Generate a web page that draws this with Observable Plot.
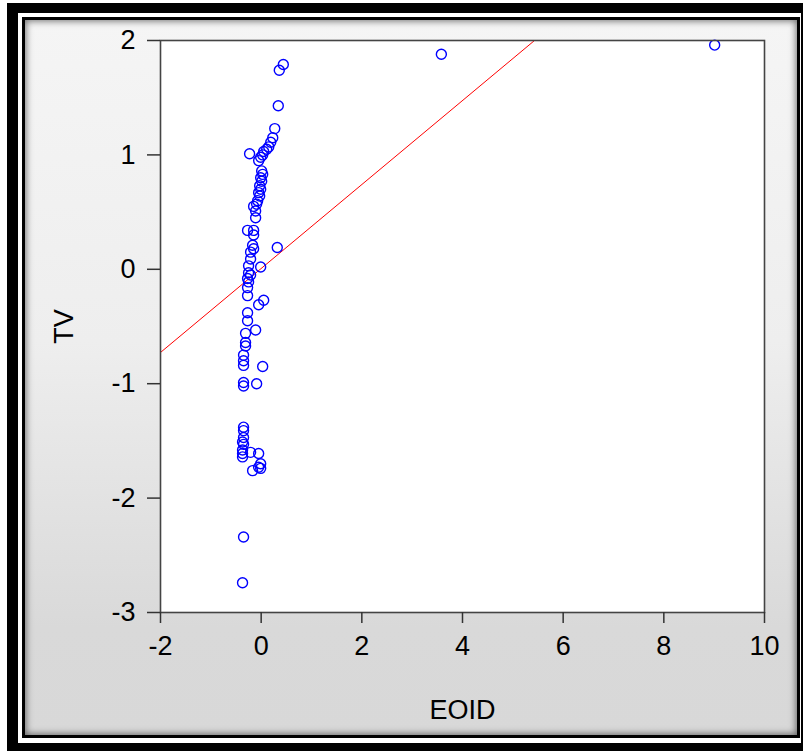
<!DOCTYPE html>
<html>
<head>
<meta charset="utf-8">
<script src="https://cdn.jsdelivr.net/npm/d3@7"></script>
<script src="https://cdn.jsdelivr.net/npm/@observablehq/plot@0.6"></script>
<style>
  html, body { margin:0; padding:0; background:#fff; }
  #page { position:relative; width:803px; height:751px; overflow:hidden; background:#fff; }
  .box { position:absolute; box-sizing:border-box; }
  #chart { position:absolute; left:0; top:0; }
</style>
</head>
<body>
<div id="page">
  <div class="box" style="left:7px; top:3px; right:0; bottom:0; background:#000;"></div>
  <div class="box" style="left:18px; top:13px; right:2px; bottom:8px; background:#fff;"></div>
  <div class="box" style="left:22px; top:17px; right:3px; bottom:13px; background:#000;"></div>
  <div class="box" style="left:25px; top:20px; right:6px; bottom:16px; background:linear-gradient(to bottom, #f5f5f5 0%, #eeeeee 45%, #d9d9d9 85%, #d8d8d8 100%); box-shadow: inset 0 0 7px 1px rgba(0,0,0,0.55);"></div>
  <div id="chart"></div>
</div>
<script>
// EOID (x) values
const eoid = [
  9.01, 3.58, 0.44, 0.36, 0.34, 0.27, 0.23, 0.19, 0.15, 0.11,
  0.05, 0.03, -0.23, -0.01, -0.05, 0.01, 0.03, -0.01, 0.01, -0.03,
  -0.01, -0.05, -0.03, -0.07, -0.09, -0.15, -0.11, -0.11, -0.27, -0.15,
  -0.15, -0.17, 0.32, -0.15, -0.21, -0.21, -0.25, -0.01, -0.25, -0.21,
  -0.27, -0.25, -0.27, -0.27, 0.05, -0.05, -0.27, -0.27, -0.11, -0.31,
  -0.31, -0.31, -0.35, -0.35, -0.35, 0.03, -0.35, -0.35, -0.09, -0.35,
  -0.35, -0.35, -0.37, -0.35, -0.37, -0.37, -0.37, -0.21, -0.05, -0.01,
  -0.05, -0.01, -0.17, -0.35, -0.37
];
// TV (y) values
const tv = [
  1.96, 1.88, 1.79, 1.74, 1.43, 1.23, 1.15, 1.11, 1.07, 1.05,
  1.03, 1.00, 1.01, 0.98, 0.95, 0.86, 0.83, 0.80, 0.77, 0.73,
  0.70, 0.67, 0.64, 0.60, 0.57, 0.55, 0.51, 0.45, 0.34, 0.34,
  0.30, 0.21, 0.19, 0.18, 0.15, 0.09, 0.03, 0.02, -0.03, -0.05,
  -0.08, -0.11, -0.16, -0.23, -0.27, -0.31, -0.38, -0.45, -0.53, -0.56,
  -0.64, -0.67, -0.75, -0.80, -0.84, -0.85, -0.99, -1.02, -1.00, -1.38,
  -1.41, -1.47, -1.51, -1.53, -1.58, -1.61, -1.64, -1.60, -1.61, -1.70,
  -1.73, -1.74, -1.76, -2.34, -2.74
];
// fitted regression line TV = a + b * EOID
const intercept = 0.007;
const slope = 0.367;

const xTicks = [-2, 0, 2, 4, 6, 8, 10];
const yTicks = [-3, -2, -1, 0, 1, 2];
const xDomain = [-2, 10];
const yDomain = [-3, 2];

const points = eoid.map((x, i) => ({x, y: tv[i]}));
const fit = xDomain.map(x => ({x, y: intercept + slope * x}));
const fmt = d => String(d);

const chart = Plot.plot({
  width: 803,
  height: 751,
  marginLeft: 160,
  marginRight: 39,
  marginTop: 40,
  marginBottom: 139,
  style: {background: "transparent", fontFamily: "'Liberation Sans', Arial, sans-serif", color: "#000"},
  x: {domain: xDomain},
  y: {domain: yDomain},
  marks: [
    Plot.frame({fill: "#fff"}),
    Plot.line(fit, {x: "x", y: "y", stroke: "#ff0000", strokeWidth: 1, clip: true}),
    Plot.dot(points, {x: "x", y: "y", r: 5, stroke: "#0000ff", strokeWidth: 1.4, fill: "none"}),
    Plot.frame({stroke: "#444", strokeWidth: 1.6}),
    Plot.axisX({ticks: xTicks, tickFormat: fmt, tickSize: 11, tickPadding: 12, fontSize: 27, stroke: "#333", strokeWidth: 1.5,
      label: "EOID", labelAnchor: "center", labelOffset: 106, labelArrow: "none"}),
    Plot.axisY({ticks: yTicks, tickFormat: fmt, tickSize: 13, tickPadding: 12, fontSize: 27, stroke: "#333", strokeWidth: 1.5,
      label: "TV", labelAnchor: "center", labelOffset: 107, labelArrow: "none"})
  ]
});
document.getElementById("chart").appendChild(chart);
</script>
</body>
</html>
